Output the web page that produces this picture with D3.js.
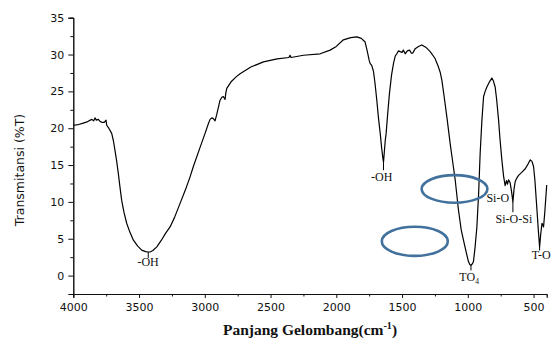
<!DOCTYPE html>
<html>
<head>
<meta charset="utf-8">
<script src="https://cdn.jsdelivr.net/npm/d3@7"></script>
<style>
    body { margin: 0; background: #fff; }
    svg { display: block; }
    .tick-label { font-family: "DejaVu Sans", sans-serif; font-size: 11px; fill: #111; }
    .peak-label { font-family: "Liberation Serif", serif; font-size: 12px; fill: #111; }
</style>
</head>
<body>
<div id="ftir-chart"></div>
<script>
// Spectrum data
const wavenumbers = [4000, 3960, 3924, 3890, 3860, 3845, 3835, 3825, 3810, 3795, 3784, 3765, 3751, 3746, 3730,
    3708, 3695, 3683, 3670, 3658, 3645, 3632, 3615, 3594, 3570, 3543, 3510, 3480, 3450, 3430, 3416, 3395, 3365,
    3330, 3300, 3264, 3230, 3188, 3140, 3112, 3087, 3040, 2998, 2973, 2960, 2947, 2935, 2922, 2910, 2884, 2870,
    2859, 2846, 2840, 2833, 2800, 2760, 2732, 2650, 2554, 2450, 2360, 2352, 2344, 2250, 2123, 2047, 2000, 1946,
    1890, 1844, 1810, 1781, 1765, 1750, 1743, 1730, 1717, 1705, 1692, 1680, 1666, 1655, 1645, 1641, 1636, 1628,
    1621, 1610, 1596, 1580, 1565, 1552, 1540, 1527, 1514, 1500, 1490, 1476, 1460, 1443, 1430, 1418, 1400, 1375,
    1350, 1320, 1286, 1250, 1223, 1210, 1197, 1180, 1159, 1134, 1110, 1096, 1071, 1050, 1033, 1010, 995, 985,
    976, 965, 957, 945, 931, 918, 906, 893, 880, 868, 855, 835, 817, 805, 792, 780, 766, 755, 741, 728, 716,
    706, 698, 690, 678, 668, 657, 648, 639, 625, 614, 590, 563, 540, 525, 512, 500, 490, 474, 463, 454, 446,
    436, 430, 424, 415, 405, 400]
const transmittance = [20.4, 20.5, 20.7, 20.9, 21.2, 21.0, 21.4, 21.1, 21.2, 20.9, 20.8, 20.8, 21.1, 20.4, 20.0,
    19.3, 18.3, 17.0, 15.5, 13.9, 12.0, 10.2, 8.6, 7.1, 5.9, 4.8, 4.0, 3.46, 3.25, 3.2, 3.2, 3.4, 3.9,
    4.8, 5.7, 6.6, 7.9, 9.8, 12.0, 13.4, 14.8, 17.2, 19.3, 20.6, 21.2, 21.4, 21.3, 21.0, 21.8, 23.8, 24.2,
    24.3, 23.9, 24.8, 25.4, 26.3, 27.0, 27.4, 28.3, 29.0, 29.4, 29.6, 29.9, 29.6, 29.9, 30.1, 30.6, 31.1, 32.0,
    32.3, 32.4, 32.2, 31.7, 30.5, 29.2, 28.8, 28.5, 27.7, 26.0, 23.8, 21.5, 19.3, 17.3, 15.8, 15.4, 16.5, 18.3,
    19.3, 21.8, 24.7, 27.2, 28.8, 29.8, 30.1, 30.5, 30.4, 30.3, 30.6, 30.1, 30.5, 30.6, 30.2, 30.2, 30.8, 31.1,
    31.3, 31.0, 30.4, 29.5, 28.3, 27.6, 26.5, 24.3, 21.5, 17.9, 14.8, 13.0, 8.9, 6.2, 4.8, 3.0, 1.9, 1.5,
    1.4, 1.6, 1.9, 3.8, 6.6, 11.0, 16.6, 21.0, 24.3, 25.0, 25.6, 26.3, 26.8, 26.4, 25.6, 23.8, 21.1, 18.5, 15.7, 13.5, 12.2,
    12.9, 12.4, 13.0, 12.6, 11.5, 10.0, 11.8, 12.8, 13.3, 13.6, 14.0, 14.5, 15.2, 15.7, 15.5, 14.8, 13.0, 8.9, 6.0, 3.9, 5.5,
    7.1, 6.9, 6.6, 8.5, 11.0, 12.3]

// Axis ticks
const xTicks = [4000, 3500, 3000, 2500, 2000, 1500, 1000, 500]
const yTicks = [0, 5, 10, 15, 20, 25, 30, 35]

// Peak annotations: label, peak position, tick end, label position
const peakLabels = ['-OH', '-OH', 'Si-O', 'Si-O-Si', 'TO', 'T-O']
const peakWavenumbers = [3430, 1641, null, 657, 976, 454]
const peakValues = [3.2, 15.4, null, 10.0, 1.4, 3.9]
const peakTickEnds = [2.4, 14.3, null, 8.6, 0.7, 3.4]
const labelWavenumbers = [3431, 1655, 772, 649, 990, 441]
const labelValues = [1.3, 12.8, 10.0, 7.1, -0.75, 2.25]

// Highlight ellipses (in data units)
const ellipseCentersX = [1101, 1403]
const ellipseCentersY = [11.76, 4.65]
const ellipseRadiiX = [250, 251]
const ellipseRadiiY = [1.87, 1.97]

const chartWidth = 552
const chartHeight = 341

const svg = d3.select('#ftir-chart')
    .append('svg')
    .attr('width', chartWidth)
    .attr('height', chartHeight)

// Scales
const xScale = d3.scaleLinear().domain([4000, 400]).range([73.3, 546.7])
const yScale = d3.scaleLinear().domain([-2.5, 35]).range([294, 17.7])

// Axes
const xAxis = d3.axisBottom(xScale).tickValues(xTicks).tickSize(4).tickPadding(5).tickFormat(d3.format('d'))
const xMinor = d3.axisBottom(xScale).tickValues(d3.range(3750, 400, -500)).tickSize(2.5).tickFormat('')
const yAxis = d3.axisLeft(yScale).tickValues(yTicks).tickSize(5).tickPadding(4)
const yMinor = d3.axisLeft(yScale).tickValues(d3.range(-2.5, 35, 5)).tickSize(3).tickFormat('')

function drawAxis(axis, transform){
    const g = svg.append('g')
        .attr('transform', transform)
        .call(axis)
    g.select('.domain').attr('stroke', '#111').attr('stroke-width', 1)
    g.selectAll('.tick line').attr('stroke', '#111')
    g.selectAll('.tick text').attr('class', 'tick-label').attr('fill', null)
    return g
}

drawAxis(xMinor, 'translate(0,294)')
drawAxis(xAxis, 'translate(0,294)')
drawAxis(yMinor, 'translate(73.3,0)')
drawAxis(yAxis, 'translate(73.3,0)')

// Axis titles
svg.append('text')
    .attr('transform', 'translate(24,170) rotate(-90)')
    .attr('text-anchor', 'middle')
    .style('font-family', '"DejaVu Sans", sans-serif')
    .style('font-size', '12.5px')
    .attr('fill', '#111')
    .text('Transmitansi (%T)')

const xTitle = svg.append('text')
    .attr('x', 310)
    .attr('y', 335)
    .attr('text-anchor', 'middle')
    .style('font-family', '"Liberation Serif", serif')
    .style('font-size', '15.5px')
    .style('font-weight', 'bold')
    .attr('fill', '#111')
xTitle.append('tspan').text('Panjang Gelombang(cm')
xTitle.append('tspan').attr('dy', -6).style('font-size', '10px').text('-1')
xTitle.append('tspan').attr('dy', 6).text(')')

// Spectrum line
const line = d3.line()
    .x((_, i)=>xScale(wavenumbers[i]))
    .y(d=>yScale(d))

svg.append('path')
    .datum(transmittance)
    .attr('d', line)
    .attr('fill', 'none')
    .attr('stroke', '#000')
    .attr('stroke-width', 1.2)
    .attr('stroke-linejoin', 'round')

// Peak ticks and labels
peakLabels.forEach((label, i)=>{
    if (peakWavenumbers[i] !== null){
        svg.append('line')
            .attr('x1', xScale(peakWavenumbers[i]))
            .attr('x2', xScale(peakWavenumbers[i]))
            .attr('y1', yScale(peakValues[i]))
            .attr('y2', yScale(peakTickEnds[i]))
            .attr('stroke', '#000')
            .attr('stroke-width', 1)
    }
    const t = svg.append('text')
        .attr('class', 'peak-label')
        .attr('x', xScale(labelWavenumbers[i]))
        .attr('y', yScale(labelValues[i]))
        .attr('text-anchor', 'middle')
        .text(label)
    if (label === 'TO'){
        t.append('tspan').attr('dy', 3).style('font-size', '7.5px').text('4')
    }
})

// Blue ellipses
svg.selectAll('.mark-ellipse')
    .data(ellipseCentersX)
    .enter()
    .append('ellipse')
    .classed('mark-ellipse', true)
    .attr('cx', d=>xScale(d))
    .attr('cy', (_, i)=>yScale(ellipseCentersY[i]))
    .attr('rx', (d, i)=>xScale(d - ellipseRadiiX[i]) - xScale(d))
    .attr('ry', (_, i)=>yScale(0) - yScale(ellipseRadiiY[i]))
    .attr('fill', 'none')
    .attr('stroke', '#41719c')
    .attr('stroke-width', 2.6)
</script>
</body>
</html>
